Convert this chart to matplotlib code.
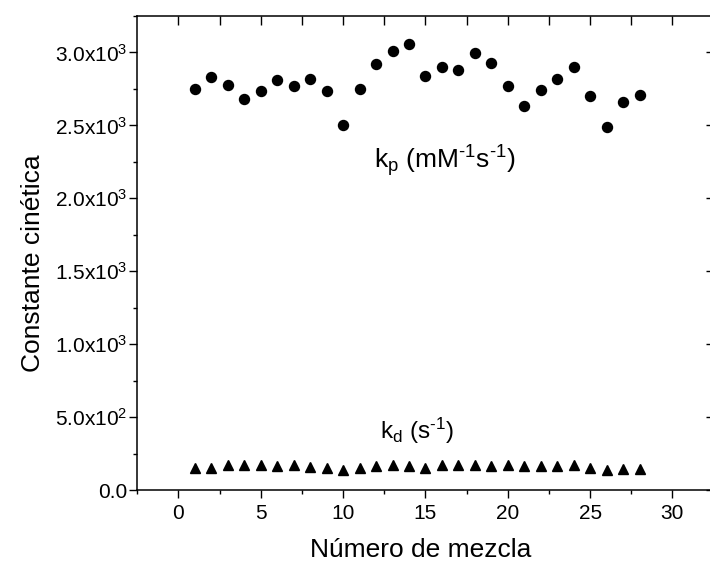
import matplotlib
matplotlib.use("Agg")
import matplotlib.pyplot as plt
from matplotlib.ticker import MultipleLocator, FixedLocator, FixedFormatter

plt.rcParams['font.family'] = ['Liberation Sans', 'DejaVu Sans']
plt.rcParams['mathtext.fontset'] = 'custom'
plt.rcParams['mathtext.rm'] = 'Liberation Sans'
plt.rcParams['mathtext.it'] = 'Liberation Sans'

# Data
mezcla = list(range(1, 29))
kp = [2749, 2829, 2778, 2680, 2733, 2810, 2769, 2819, 2733, 2500,
      2749, 2920, 3010, 3060, 2840, 2900, 2881, 2998, 2929, 2769,
      2630, 2742, 2819, 2900, 2701, 2490, 2662, 2710]
kd = [149, 149, 168, 168, 174, 164, 168, 158, 148, 134,
      148, 164, 168, 166, 151, 168, 174, 168, 164, 168,
      164, 164, 165, 168, 154, 134, 141, 141]

y_ticks = [0, 500, 1000, 1500, 2000, 2500, 3000]
y_ticklabels = ['0.0', r'5.0x10$\mathregular{^2}$', r'1.0x10$\mathregular{^3}$',
                r'1.5x10$\mathregular{^3}$', r'2.0x10$\mathregular{^3}$',
                r'2.5x10$\mathregular{^3}$', r'3.0x10$\mathregular{^3}$']
x_ticks = [0, 5, 10, 15, 20, 25, 30]

W, H = 710, 566
fig = plt.figure(figsize=(W / 100, H / 100), dpi=100)
left, right, top, bottom = 137.3, 713.6, 16, 490
ax = fig.add_axes([left / W, (H - bottom) / H, (right - left) / W, (bottom - top) / H])

ax.plot(mezcla, kp, linestyle='none', marker='o', ms=7.2, color='black')
ax.plot(mezcla, kd, linestyle='none', marker='^', ms=7.6, color='black')

ax.set_xlim(-2.5, 32.5)
ax.set_ylim(0, 3250)

ax.xaxis.set_major_locator(FixedLocator(x_ticks))
ax.xaxis.set_minor_locator(MultipleLocator(2.5))
ax.yaxis.set_major_locator(FixedLocator(y_ticks))
ax.yaxis.set_major_formatter(FixedFormatter(y_ticklabels))
ax.yaxis.set_minor_locator(MultipleLocator(250))

for s in ax.spines.values():
    s.set_linewidth(1.1)

ax.tick_params(axis='both', which='major', direction='out', length=6, width=1.0,
               labelsize=15, pad=1.5, top=False, right=False)
ax.tick_params(axis='both', which='minor', direction='out', length=3, width=1.0,
               top=False, right=False)
ax.tick_params(axis='x', which='major', pad=4)

# mirrored ticks (pointing inward on top/right, i.e. same direction as bottom/left)
sec_x = ax.secondary_xaxis('top')
sec_x.set_xticks([-2.5 + 2.5 * i for i in range(1, 14)])
sec_x.tick_params(direction='in', length=6.5, width=1.0, labeltop=False)
sec_x.spines['top'].set_visible(False)
sec_y = ax.secondary_yaxis('right')
sec_y.set_yticks(y_ticks)
sec_y.yaxis.set_minor_locator(MultipleLocator(250))
sec_y.tick_params(which='major', direction='in', length=6, width=1.0, labelright=False)
sec_y.tick_params(which='minor', direction='in', length=3, width=1.0, labelright=False)
sec_y.spines['right'].set_visible(False)

ax.set_xlabel('Número de mezcla', fontsize=19)
ax.set_ylabel('Constante cinética', fontsize=19)
ax.xaxis.set_label_coords(0.5 - 5 / (right - left), (bottom - 538) / (bottom - top))
ax.yaxis.set_label_coords((45 - left) / (right - left), 0.5 - 10 / (bottom - top))

hy = '\u2010'
ax.text(16.2, 2207, r'k$\mathregular{_p}$ (mM$\mathregular{^{' + hy + r'1}}$s$\mathregular{^{' + hy + r'1}}$)',
        fontsize=19, ha='center', va='baseline')
ax.text(14.5, 353, r'k$\mathregular{_d}$ (s$\mathregular{^{' + hy + r'1}}$)',
        fontsize=17.5, ha='center', va='baseline')

fig.savefig('out.png', dpi=100)
